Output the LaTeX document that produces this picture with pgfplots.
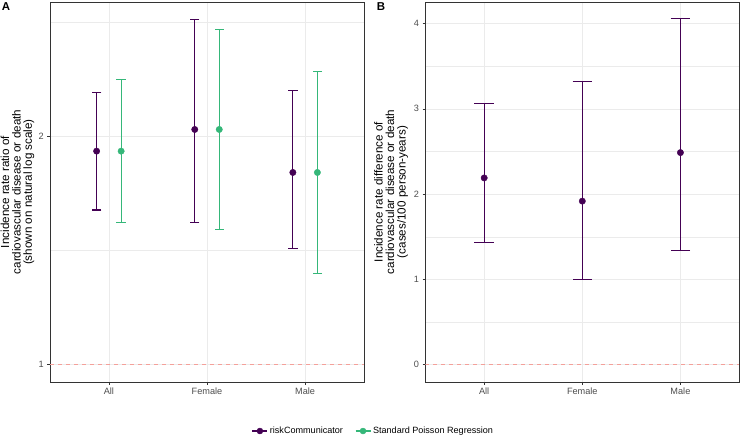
\documentclass[border=0pt]{standalone}
\usepackage{fontspec}
\setmainfont{Liberation Sans}
\usepackage{pgfplots}
\pgfplotsset{compat=1.18}
\usepackage{pgfplotstable}

\definecolor{rcpurple}{HTML}{440154}
\definecolor{poissongreen}{HTML}{35B779}
\definecolor{gridgrey}{HTML}{EBEBEB}
\definecolor{tickgrey}{HTML}{4D4D4D}
\definecolor{bordergrey}{HTML}{333333}
\definecolor{refred}{HTML}{F4A09A}

% incidence rate ratio: point estimates (dodged positions)
\pgfplotstableread{
x     y
0.875 1.913
1.875 2.043
2.875 1.793
}\ratioRC
\pgfplotstableread{
x     y
1.125 1.913
2.125 2.043
3.125 1.793
}\ratioSP
% 95% CI as segments (lower, upper)
\pgfplotstableread{
x     y
0.875 1.600
0.875 2.287
nan   nan
1.875 1.540
1.875 2.855
nan   nan
2.875 1.422
2.875 2.301
}\ciRC
\pgfplotstableread{
x     y
1.125 1.540
1.125 2.376
nan   nan
2.125 1.507
2.125 2.765
nan   nan
3.125 1.319
3.125 2.439
}\ciSP
% incidence rate difference (cases/100 person-years)
\pgfplotstableread{
x y     lo    hi
1 2.190 1.434 3.060
2 1.918 0.994 3.320
3 2.487 1.337 4.054
}\diffRC

\pgfplotsset{
  panel/.style={
    scale only axis, width=314bp, height=380bp,
    xmin=0.4, xmax=3.6, xtick={1,2,3}, xticklabels={All,Female,Male},
    tick align=outside, tick pos=left,
    major tick length=2.8bp, minor tick length=0pt,
    major tick style={bordergrey, line width=0.5bp},
    axis line style={bordergrey, line width=0.5bp},
    grid=both,
    major grid style={gridgrey, line width=0.6bp},
    minor grid style={gridgrey, line width=0.35bp},
    ticklabel style={font=\fontsize{9.2}{10}\selectfont, text=tickgrey},
    /pgf/number format/assume math mode=true,
    ylabel style={font=\fontsize{11.7}{11.5}\selectfont, align=center, anchor=center},
    unbounded coords=jump,
  },
  cibar/.style={#1, line width=1.1bp, forget plot},
  cicap/.style={#1, only marks, mark=-, mark size=4.65bp,
    mark options={line width=1.1bp}, forget plot},
  cipoint/.style={only marks, mark=*, mark size=3.2bp, #1,
    mark options={fill=#1, draw=#1}, forget plot},
}

\begin{document}
\begin{tikzpicture}
\useasboundingbox (0,0) rectangle (741bp,437bp);

\begin{axis}[panel, at={(50bp,55bp)}, anchor=south west,
  ymode=log, ymin=0.9489, ymax=3.0086,
  ytick={1,2}, yticklabels={1,2}, minor ytick={1.41421,2.82843},
  ylabel={Incidence rate ratio of\\cardiovascular disease or death\\(shown on natural log scale)},
  ylabel style={at={(axis description cs:-0.1035,0.5)}},
  legend style={draw=none, fill=none, legend columns=2,
    at={(axis description cs:1.030,-0.129)}, anchor=center,
    font=\fontsize{9.1}{10}\selectfont,
    /tikz/every even column/.append style={column sep=10bp}},
  legend cell align=left,
]
\addlegendimage{legend image code/.code={
  \draw[rcpurple, line width=1.1bp] (0bp,0bp) -- (15bp,0bp);
  \fill[rcpurple] (7.5bp,0bp) circle[radius=3bp];}}
\addlegendentry{riskCommunicator}
\addlegendimage{legend image code/.code={
  \draw[poissongreen, line width=1.1bp] (0bp,0bp) -- (15bp,0bp);
  \fill[poissongreen] (7.5bp,0bp) circle[radius=3bp];}}
\addlegendentry{Standard Poisson Regression}
\addplot[refred, dashed, dash pattern=on 4bp off 4bp, line width=0.6bp, forget plot]
  coordinates {(0.4,1) (3.6,1)};
\addplot[cibar=rcpurple] table {\ciRC};
\addplot[cicap=rcpurple] table {\ciRC};
\addplot[cipoint=rcpurple] table {\ratioRC};
\addplot[cibar=poissongreen] table {\ciSP};
\addplot[cicap=poissongreen] table {\ciSP};
\addplot[cipoint=poissongreen] table {\ratioSP};
\end{axis}

\begin{axis}[panel, at={(425.3bp,55bp)}, anchor=south west,
  ymin=-0.2025, ymax=4.2525,
  ytick={0,1,2,3,4}, minor ytick={0.5,1.5,2.5,3.5},
  ylabel={Incidence rate difference of\\cardiovascular disease or death\\(cases/100 person-years)},
  ylabel style={at={(axis description cs:-0.109,0.5)}},
]
\addplot[refred, dashed, dash pattern=on 4bp off 4bp, line width=0.6bp]
  coordinates {(0.4,0) (3.6,0)};
\addplot[only marks, mark=*, mark size=3.2bp, rcpurple,
  mark options={fill=rcpurple, draw=rcpurple},
  error bars/.cd, y dir=both, y explicit,
  error bar style={rcpurple, line width=1.1bp},
  error mark options={rcpurple, line width=1.1bp, mark size=9.7bp, rotate=90}]
  table[x=x, y=y, y error plus expr=\thisrow{hi}-\thisrow{y},
        y error minus expr=\thisrow{y}-\thisrow{lo}] {\diffRC};
\end{axis}

\node[font=\bfseries\fontsize{11.5}{12}\selectfont, anchor=center] at (6bp,430bp) {A};
\node[font=\bfseries\fontsize{11.5}{12}\selectfont, anchor=center] at (381bp,430bp) {B};
\end{tikzpicture}
\end{document}
